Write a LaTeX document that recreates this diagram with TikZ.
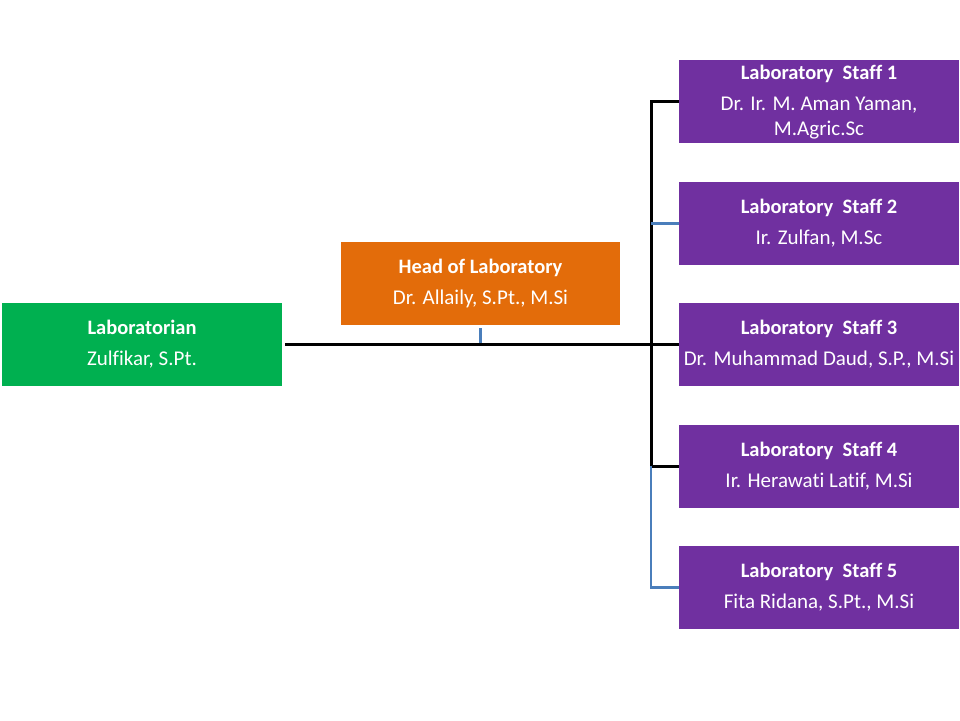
\documentclass[tikz,border=0pt]{standalone}
\usepackage{fontspec}
\setmainfont[Ligatures=NoCommon]{Carlito}
\usetikzlibrary{positioning}
\definecolor{labgreen}{HTML}{00B050}
\definecolor{laborange}{HTML}{E36C0A}
\definecolor{labpurple}{HTML}{7030A0}
\definecolor{linkblue}{HTML}{4A7EBB}
\tikzset{
  unit/.style={minimum width=280pt, minimum height=83pt, inner sep=0pt,
    text=white, align=center, font=\fontsize{21}{25}\selectfont},
  staffbox/.style={unit, fill=labpurple},
  mainlink/.style={line width=3pt},
  sidelink/.style={line width=2.5pt, linkblue}
}
\newcommand{\boxtitle}[1]{\textbf{\fontsize{20.5}{24}\selectfont #1}\\[6pt]}
\begin{document}
\begin{tikzpicture}[x=1pt,y=-1pt]
  \useasboundingbox (0,0) rectangle (960,720);
  \node[unit, fill=labgreen] (lab) at (142,344.5) {\boxtitle{Laboratorian}Zulfikar, S.Pt.};
  \node[unit, fill=laborange, minimum width=279pt] (head) at (480.5,283.5) {\boxtitle{Head of Laboratory}Dr. Allaily, S.Pt., M.Si};
  \node[staffbox, text depth=2pt] (staff1) at (819,101.5) {\boxtitle{Laboratory~ Staff 1}Dr. Ir. M. Aman Yaman,\\M.Agric.Sc};
  \node[staffbox] (staff2) at (819,223.5) {\boxtitle{Laboratory~ Staff 2}Ir. Zulfan, M.Sc};
  \node[staffbox] (staff3) at (819,344.5) {\boxtitle{Laboratory~ Staff 3}Dr. Muhammad Daud, S.P., M.Si};
  \node[staffbox] (staff4) at (819,466) {\boxtitle{Laboratory~ Staff 4}Ir. Herawati Latif, M.Si};
  \node[staffbox] (staff5) at (819,587.5) {\boxtitle{Laboratory~ Staff 5}Fita Ridana, S.Pt., M.Si};
  \coordinate (bus) at (651,344);
  % links
  \draw[sidelink] ([yshift=-3pt]head.south) -- (head.south |- lab.east);
  \draw[mainlink] ([xshift=3pt]lab.east) -- (staff3.west);
  \draw[mainlink] (staff1.west) -- (staff1.west -| bus) -- (staff4.west -| bus) -- (staff4.west);
  \draw[sidelink] (staff2.west) -- (staff2.west -| bus);
  \draw[sidelink] (staff4.west -| bus) -- (staff5.west -| bus) -- (staff5.west);
\end{tikzpicture}
\end{document}
